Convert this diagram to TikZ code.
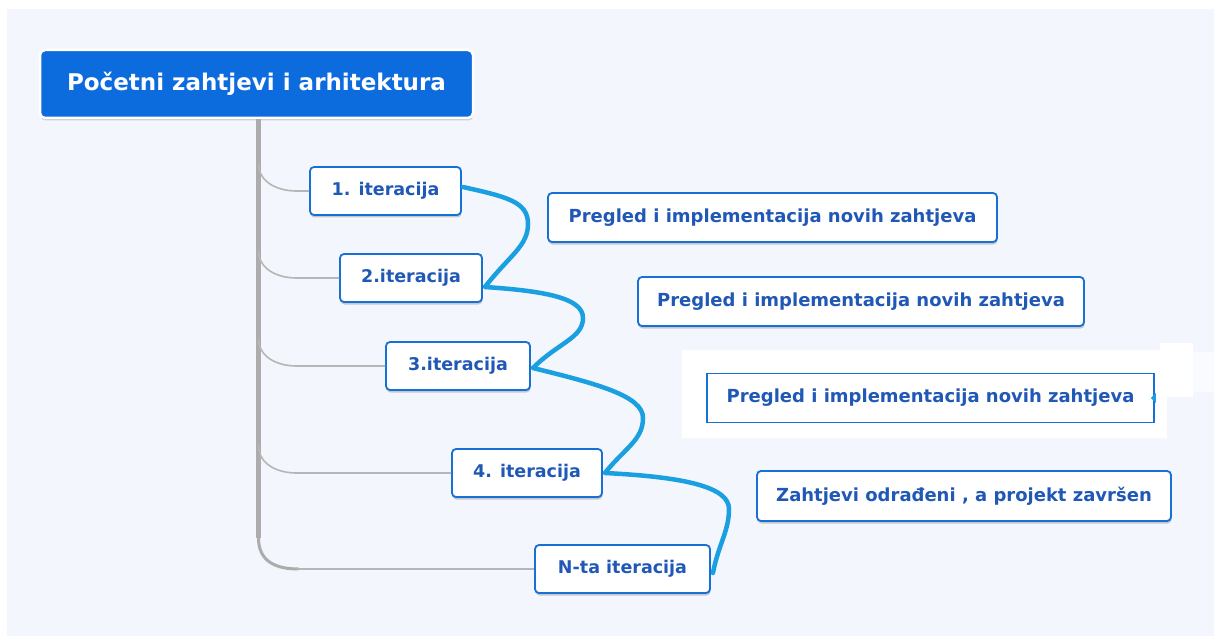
\documentclass[tikz,border=0pt]{standalone}
\usepackage{fontspec}
\setmainfont{DejaVu Sans}
\usetikzlibrary{calc,positioning,shadows}

\definecolor{paper}{RGB}{243,246,252}
\definecolor{topicBlue}{RGB}{12,108,222}
\definecolor{frameBlue}{RGB}{22,112,214}
\definecolor{textBlue}{RGB}{32,88,182}
\definecolor{flowBlue}{RGB}{26,160,224}
\definecolor{trunkGray}{RGB}{172,172,172}
\definecolor{branchGray}{RGB}{182,182,182}

\begin{document}
\begin{tikzpicture}[x=1pt,y=-1pt]
  \useasboundingbox (0,0) rectangle (1214,636);
  \tikzset{
    rootTopic/.style={rectangle,rounded corners=5pt,fill=topicBlue,draw=white,line width=2.5pt,
      text=white,font=\bfseries\fontsize{23}{27}\selectfont,inner sep=0pt,
      minimum width=433pt,minimum height=68pt,
      drop shadow={shadow xshift=0.5pt,shadow yshift=-2.5pt,opacity=.35}},
    iteration/.style={rectangle,rounded corners=4pt,fill=white,draw=frameBlue,line width=1.8pt,
      text=textBlue,font=\bfseries\fontsize{17.5}{21}\selectfont,inner sep=0pt,
      minimum height=48pt,
      drop shadow={shadow xshift=0.5pt,shadow yshift=-2.5pt,opacity=.4}},
    review/.style={iteration,minimum height=49pt,font=\bfseries\fontsize{18}{22}\selectfont},
    flatReview/.style={rectangle,fill=white,draw=frameBlue,line width=1.6pt,
      text=textBlue,font=\bfseries\fontsize{18}{22}\selectfont,inner sep=0pt,
      minimum height=49pt},
    % edge styles
    trunkLine/.style={draw=trunkGray,line width=5.5pt},
    branchLine/.style={draw=branchGray,line width=1.6pt},
    flowLine/.style={draw=flowBlue,line width=4.5pt,line cap=round,line join=round}
  }

  %%% Background
  \fill[white] (0,0) rectangle (1214,636);
  \fill[paper] (7,9) rectangle (1214,636);
  \fill[white] (682,350) rectangle (1167,438);
  \fill[white] (1160,343) rectangle (1193,397);
  \fill[white!60!paper] (1193,352) rectangle (1214,392);

  %%% Root and iterations
  \node[rootTopic] (root) at (256.5,84) {Početni zahtjevi i arhitektura};

  \node[iteration,minimum width=151pt] (i1) at (385.5,191) {1. iteracija};
  \node[iteration,minimum width=142pt] (i2) at (411,278) {2.iteracija};
  \node[iteration,minimum width=144pt] (i3) at (458,366) {3.iteracija};
  \node[iteration,minimum width=150pt] (i4) at (527,473) {4. iteracija};
  \node[iteration,minimum width=175pt] (iN) at (622.5,569) {N-ta iteracija};

  %%% Notes
  \node[review,minimum width=449pt] (p1) at (772.5,217.5) {Pregled i implementacija novih zahtjeva};
  \node[review,minimum width=446pt] (p2) at (861,301.5) {Pregled i implementacija novih zahtjeva};
  \node[flatReview,minimum width=447pt] (p3) at (930.5,398) {Pregled i implementacija novih zahtjeva};
  \fill[flowBlue] ($(p3.east)+(-4,0)$) -- ++(5,-5) -- ++(0,10) -- cycle;
  \node[review,minimum width=414pt,minimum height=50pt] (done) at (964,496) {Zahtjevi odrađeni , a projekt završen};

  %%% Gray tree
  \coordinate (top) at (258.5,119);
  \coordinate (bend) at (258.5,538);
  \draw[trunkLine] (root.south -| top) -- (bend);
  \foreach \n in {i1,i2,i3,i4}
    \draw[branchLine] ($(\n.west -| top)+(0,-28)$) .. controls +(0,20) and +(-18,0) ..
      ($(\n.west -| top)+(38,0)$) -- (\n.west);
  \draw[trunkLine,line width=3pt] (bend) .. controls +(0,24) and +(-22,0) .. ($(iN.west -| top)+(40,0)$);
  \draw[branchLine] ($(iN.west -| top)+(38,0)$) -- (iN.west);

  %%% Blue flow
  \coordinate (f1) at (528,224);
  \coordinate (f2) at (583,318);
  \coordinate (f3) at (643,418);
  \coordinate (f4) at (729,509);
  \draw[flowLine] ($(i1.east)+(1,-4)$) .. controls +(45,10) and +(0,-22) .. (f1)
    .. controls +(0,22) and +(25,-32) .. ($(i2.east)+(2,9)$)
    .. controls +(60,4) and +(0,-20) .. (f2)
    .. controls +(0,20) and +(25,-25) .. ($(i3.east)+(2,2)$)
    .. controls +(65,16) and +(0,-22) .. (f3)
    .. controls +(0,22) and +(20,-25) .. ($(i4.east)+(2,0)$)
    .. controls +(80,4) and +(0,-22) .. (f4)
    .. controls +(0,22) and +(6,-30) .. ($(iN.east)+(2,4)$);

\end{tikzpicture}
\end{document}
